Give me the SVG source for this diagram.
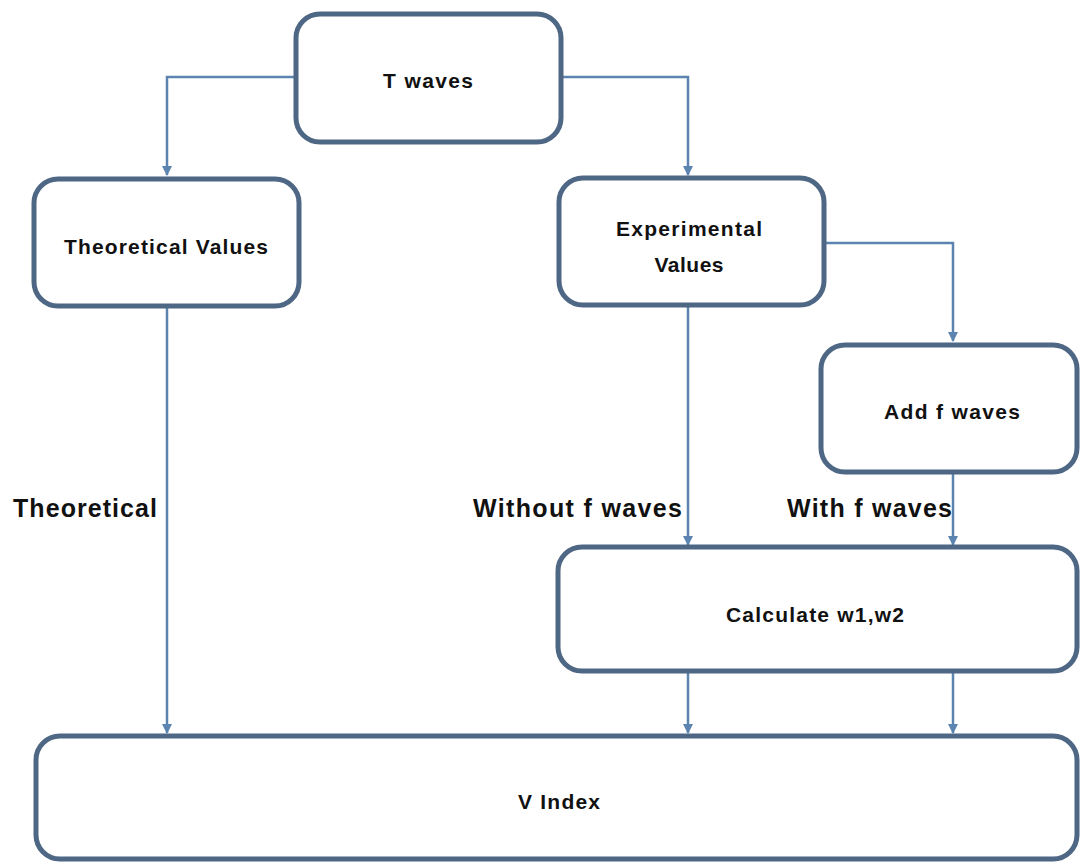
<svg xmlns="http://www.w3.org/2000/svg" width="1081" height="863" viewBox="0 0 1081 863">
<defs>
<marker id="arr" viewBox="0 0 10 10" refX="9" refY="5" markerWidth="4" markerHeight="4" orient="auto" markerUnits="strokeWidth">
<path d="M0,0 L10,5 L0,10 z" fill="#5b84b1"/>
</marker>
<style>
.box{fill:#ffffff;stroke:#4e6784;stroke-width:5}
.con{fill:none;stroke:#5b84b1;stroke-width:2.5;marker-end:url(#arr)}
.t{font-family:"Liberation Sans",Arial,sans-serif;font-weight:bold;font-size:21px;fill:#111111;text-anchor:middle}
.lbl{font-family:"Liberation Sans",Arial,sans-serif;font-weight:bold;font-size:25px;fill:#111111}
</style>
</defs>
<rect width="1081" height="863" fill="#ffffff"/>
<g id="connectors">
<path class="con" d="M296,77 H167 V175"/>
<path class="con" d="M561,77 H688 V175"/>
<path class="con" d="M825,243 H953 V341"/>
<path class="con" d="M688,306 V545"/>
<path class="con" d="M953,473 V545"/>
<path class="con" d="M167,308 V733"/>
<path class="con" d="M688,672 V733"/>
<path class="con" d="M953,672 V733"/>
</g>
<g id="node-twaves">
<rect class="box" x="296" y="14" width="265" height="128" rx="24"/>
<text class="t" x="428" y="88" textLength="90" lengthAdjust="spacing">T waves</text>
</g>
<g id="node-theoretical-values">
<rect class="box" x="34" y="179" width="265" height="127" rx="24"/>
<text class="t" x="166" y="254" textLength="204" lengthAdjust="spacing">Theoretical Values</text>
</g>
<g id="node-experimental-values">
<rect class="box" x="559" y="178" width="265" height="127" rx="24"/>
<text class="t" x="689" y="236" textLength="146" lengthAdjust="spacing">Experimental</text>
<text class="t" x="689" y="272" textLength="69" lengthAdjust="spacing">Values</text>
</g>
<g id="node-add-f-waves">
<rect class="box" x="821" y="345" width="256" height="127" rx="24"/>
<text class="t" x="952" y="419" textLength="136" lengthAdjust="spacing">Add f waves</text>
</g>
<g id="node-calculate">
<rect class="box" x="558" y="547" width="519" height="124" rx="24"/>
<text class="t" x="815" y="622" textLength="178" lengthAdjust="spacing">Calculate w1,w2</text>
</g>
<g id="node-vindex">
<rect class="box" x="36" y="736" width="1041" height="123" rx="24"/>
<text class="t" x="559" y="809" textLength="82" lengthAdjust="spacing">V Index</text>
</g>
<g id="labels">
<text class="lbl" x="13" y="517" textLength="144" lengthAdjust="spacing">Theoretical</text>
<text class="lbl" x="473" y="517" textLength="209" lengthAdjust="spacing">Without f waves</text>
<text class="lbl" x="787" y="517" textLength="165" lengthAdjust="spacing">With f waves</text>
</g>
</svg>
